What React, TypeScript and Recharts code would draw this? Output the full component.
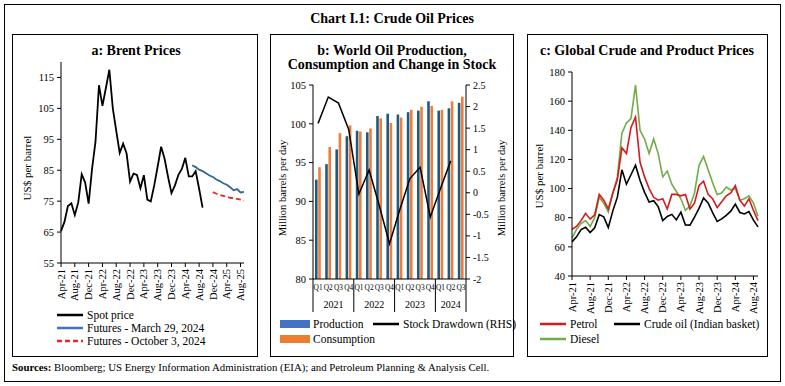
import React from "react";
import { LineChart, Line, XAxis, YAxis, ComposedChart, Bar } from "recharts";

const FONT = "'Liberation Serif', 'DejaVu Serif', serif";

// ---- panel a: Brent (US$/barrel), monthly Apr-21 .. Sep-25
const brentMonths = [
  "Apr-21", "May-21", "Jun-21", "Jul-21", "Aug-21", "Sep-21", "Oct-21", "Nov-21", "Dec-21",
  "Jan-22", "Feb-22", "Mar-22", "Apr-22", "May-22", "Jun-22", "Jul-22", "Aug-22", "Sep-22", "Oct-22", "Nov-22", "Dec-22",
  "Jan-23", "Feb-23", "Mar-23", "Apr-23", "May-23", "Jun-23", "Jul-23", "Aug-23", "Sep-23", "Oct-23", "Nov-23", "Dec-23",
  "Jan-24", "Feb-24", "Mar-24", "Apr-24", "May-24", "Jun-24", "Jul-24", "Aug-24", "Sep-24", "Oct-24", "Nov-24", "Dec-24",
  "Jan-25", "Feb-25", "Mar-25", "Apr-25", "May-25", "Jun-25", "Jul-25", "Aug-25", "Sep-25",
];
const spotPrice = [
  65.3, 68.3, 73.4, 74.3, 70.5, 74.6, 83.7, 81.0, 74.2, 85.5, 94.3, 112.5, 105.8, 111.6, 117.5, 105.1,
  97.7, 90.6, 93.6, 90.4, 81.3, 83.9, 83.5, 79.2, 83.4, 75.5, 74.9, 80.1, 86.2, 92.6, 88.7, 82.9, 77.6,
  80.1, 83.5, 85.4, 89.0, 83.0, 83.0, 84.7, 79.0, 72.9,
];
const futuresMarStart = "Jun-24";
const futuresMar = [86.6, 86.0, 85.2, 84.7, 84.0, 83.3, 82.8, 82.0, 81.5, 80.8, 80.3, 79.5, 78.5, 78.9, 77.8, 78.0];
const futuresOctStart = "Dec-24";
const futuresOct = [77.9, 77.4, 77.0, 76.7, 76.4, 76.1, 75.9, 75.7, 75.5, 75.1];
const brentTicks = [55, 65, 75, 85, 95, 105, 115];

// ---- panel b: world oil, quarterly
const quarterLabels = ["Q1", "Q2", "Q3", "Q4", "Q1", "Q2", "Q3", "Q4", "Q1", "Q2", "Q3", "Q4", "Q1", "Q2", "Q3"];
const quarterYears = ["2021", "2021", "2021", "2021", "2022", "2022", "2022", "2022", "2023", "2023", "2023", "2023", "2024", "2024", "2024"];
const production = [92.8, 94.8, 96.7, 98.4, 99.1, 98.9, 101.0, 101.3, 101.2, 101.5, 101.7, 102.9, 101.7, 102.0, 102.7];
const consumption = [94.4, 97.0, 98.8, 99.8, 99.0, 99.4, 100.7, 100.1, 100.8, 101.8, 102.2, 102.3, 101.8, 102.9, 103.5];
const stockDrawdown = [1.61, 2.22, 2.08, 1.47, -0.03, 0.53, -0.3, -1.18, -0.4, 0.33, 0.59, -0.56, 0.1, 0.74, null];
const leftTicks = [80, 85, 90, 95, 100, 105];
const rightTicks = [-2, -1.5, -1, -0.5, 0, 0.5, 1, 1.5, 2, 2.5];

// ---- panel c: crude and product prices, Apr-21 .. Sep-24
const productMonths = brentMonths.slice(0, 42);
const petrol = [
  72, 74, 78, 83, 79, 82, 96, 92, 86, 97, 106, 128, 124, 142, 149, 118, 108, 100, 94, 92, 93, 86, 96, 96,
  95, 96, 86, 90, 102, 105, 96, 93, 87, 91, 95, 97, 102, 92, 88, 93, 85, 78,
];
const crudeIndian = [
  63.4, 66.9, 71.9, 73.5, 69.8, 73.1, 82.1, 80.6, 73.3, 84.7, 94.1, 112.9, 103.0, 109.5, 116.0, 105.5,
  97.4, 90.7, 91.7, 87.6, 78.1, 80.9, 82.3, 78.5, 83.8, 75.0, 74.9, 80.4, 86.4, 93.5, 90.1, 83.5, 77.4,
  79.2, 81.6, 84.5, 89.4, 83.6, 82.6, 84.2, 78.3, 73.7,
];
const diesel = [
  66, 72, 76, 78, 74, 80, 94, 90, 84, 97, 108, 138, 145, 148, 171, 140, 134, 124, 134, 124, 108, 112, 103, 98,
  93, 85, 88, 97, 116, 122, 113, 104, 96, 97, 101, 99, 100, 92, 93, 95, 90, 81,
];
const productTicks = [40, 60, 80, 100, 120, 140, 160, 180];

const marIdx = brentMonths.indexOf(futuresMarStart);
const octIdx = brentMonths.indexOf(futuresOctStart);
const brentData = brentMonths.map((m, i) => ({
  month: m,
  spot: i < spotPrice.length ? spotPrice[i] : null,
  futMar: i >= marIdx ? futuresMar[i - marIdx] : null,
  futOct: i >= octIdx ? futuresOct[i - octIdx] : null,
}));

const oilData = quarterLabels.map((q, i) => ({
  q: `${q}-${quarterYears[i]}`,
  production: production[i],
  consumption: consumption[i],
  drawdown: stockDrawdown[i],
}));

const productData = productMonths.map((m, i) => ({
  month: m,
  petrol: petrol[i],
  crude: crudeIndian[i],
  diesel: diesel[i],
}));

const tickStyle = { fontSize: 10.5, fill: "#000", fontFamily: FONT };

const MonthTick = (props: any) => {
  const { x, y, payload } = props;
  return (
    <text
      x={x}
      y={y}
      dy={3.6}
      transform={`rotate(-90, ${x}, ${y})`}
      textAnchor="end"
      fontSize={10.5}
      fontFamily={FONT}
      fill="#000"
    >
      {payload.value}
    </text>
  );
};

const QuarterTick = (props: any) => {
  const { x, y, payload } = props;
  const i = props.index ?? payload.index;
  const half = payload.offset || 5.1;
  const year = quarterYears[i];
  const nInYear = quarterYears.filter((yy) => yy === year).length;
  return (
    <g>
      <text x={x} y={y + 11} textAnchor="middle" fontSize={7.4} fontFamily={FONT} fill="#000">
        {quarterLabels[i]}
      </text>
      {quarterLabels[i] === "Q1" && (
        <line x1={x - half} x2={x - half} y1={y} y2={y + 33} stroke="#000" strokeWidth={1} />
      )}
      {i === quarterLabels.length - 1 && (
        <line x1={x + half} x2={x + half} y1={y} y2={y + 33} stroke="#000" strokeWidth={1} />
      )}
      {quarterLabels[i] === "Q2" && (
        <text
          x={nInYear === 4 ? x + half : x}
          y={y + 29}
          textAnchor="middle"
          fontSize={10}
          fontFamily={FONT}
          fill="#000"
        >
          {year}
        </text>
      )}
    </g>
  );
};

type LegendItem = { kind: "line" | "dash" | "rect"; color: string; label: string; x: number; y: number };

const legendItems: LegendItem[] = [
  { kind: "line", color: "#000", label: "Spot price", x: 57, y: 315 },
  { kind: "line", color: "#4472c4", label: "Futures - March 29, 2024", x: 57, y: 328 },
  { kind: "dash", color: "#e8262a", label: "Futures - October 3, 2024", x: 57, y: 341 },
  { kind: "rect", color: "#4472c4", label: "Production", x: 280, y: 324 },
  { kind: "line", color: "#000", label: "Stock Drawdown (RHS)", x: 373, y: 324 },
  { kind: "rect", color: "#ed7d31", label: "Consumption", x: 280, y: 339 },
  { kind: "line", color: "#d7191c", label: "Petrol", x: 540, y: 324 },
  { kind: "line", color: "#000", label: "Crude oil (Indian basket)", x: 614, y: 324 },
  { kind: "line", color: "#70ad47", label: "Diesel", x: 540, y: 339 },
];

function Overlay() {
  return (
    <svg
      width={785}
      height={386}
      style={{ position: "absolute", left: 0, top: 0, pointerEvents: "none" }}
      fontFamily={FONT}
    >
      <rect x={4.5} y={4.5} width={776} height={377} fill="none" stroke="#000" strokeWidth={1} />
      <text x={392} y={23} textAnchor="middle" fontSize={14} fontWeight="bold">
        Chart I.1: Crude Oil Prices
      </text>
      <rect x={12.5} y={34.5} width={245} height={322} fill="none" stroke="#000" strokeWidth={1} />
      <rect x={270.5} y={34.5} width={243} height={322} fill="none" stroke="#000" strokeWidth={1} />
      <rect x={527.5} y={34.5} width={240} height={322} fill="none" stroke="#000" strokeWidth={1} />

      <text x={136} y={55} textAnchor="middle" fontSize={14} fontWeight="bold">a: Brent Prices</text>
      <text x={392} y={55} textAnchor="middle" fontSize={14} fontWeight="bold">b: World Oil Production,</text>
      <text x={392} y={69} textAnchor="middle" fontSize={14} fontWeight="bold">Consumption and Change in Stock</text>
      <text x={647} y={55} textAnchor="middle" fontSize={14} fontWeight="bold">c: Global Crude and Product Prices</text>

      <text transform="translate(31,168) rotate(-90)" textAnchor="middle" fontSize={11}>US$ per barrel</text>
      <text transform="translate(286,188) rotate(-90)" textAnchor="middle" fontSize={10.5}>Million barrels per day</text>
      <text transform="translate(505,188) rotate(-90)" textAnchor="middle" fontSize={10.5}>Million barrels per day</text>
      <text transform="translate(543,176) rotate(-90)" textAnchor="middle" fontSize={11}>US$ per barrel</text>

      {legendItems.map((it) => (
        <g key={it.label}>
          {it.kind === "rect" ? (
            <rect x={it.x} y={it.y - 4} width={30} height={8} fill={it.color} />
          ) : (
            <line
              x1={it.x}
              x2={it.x + 26}
              y1={it.y}
              y2={it.y}
              stroke={it.color}
              strokeWidth={2.5}
              strokeDasharray={it.kind === "dash" ? "5 3" : undefined}
            />
          )}
          <text x={it.x + (it.kind === "rect" ? 33 : 30)} y={it.y + 4} fontSize={11.5}>
            {it.label}
          </text>
        </g>
      ))}

      <text x={12} y={371} fontSize={10.8}>
        <tspan fontWeight="bold">Sources:</tspan>
        <tspan> Bloomberg; US Energy Information Administration (EIA); and Petroleum Planning &amp; Analysis Cell.</tspan>
      </text>
    </svg>
  );
}

export default function App() {
  return (
    <div
      style={{
        position: "absolute",
        left: 0,
        top: 0,
        width: 785,
        height: 386,
        background: "#fff",
        fontFamily: FONT,
        overflow: "hidden",
      }}
    >
      <div style={{ position: "absolute", left: 15, top: 34 }}>
        <LineChart width={242} height={275} data={brentData} margin={{ top: 28, right: 13, left: 0, bottom: 0 }}>
          <XAxis
            dataKey="month"
            interval={3}
            height={46}
            tick={<MonthTick />}
            tickSize={4}
            tickMargin={2}
            stroke="#000"
          />
          <YAxis
            domain={[55, 120]}
            ticks={brentTicks}
            width={46}
            tick={tickStyle}
            tickSize={4}
            tickMargin={3}
            stroke="#000"
          />
          <Line dataKey="spot" stroke="#000" strokeWidth={1.8} dot={false} isAnimationActive={false} connectNulls={false} />
          <Line dataKey="futMar" stroke="#2f6a93" strokeWidth={1.8} dot={false} isAnimationActive={false} />
          <Line
            dataKey="futOct"
            stroke="#e8262a"
            strokeWidth={1.8}
            strokeDasharray="5 3"
            dot={false}
            isAnimationActive={false}
          />
        </LineChart>
      </div>

      <div style={{ position: "absolute", left: 270, top: 34 }}>
        <ComposedChart
          width={243}
          height={281}
          data={oilData}
          margin={{ top: 51, right: 0, left: 0, bottom: 0 }}
          barGap={0.6}
        >
          <XAxis
            dataKey="q"
            xAxisId={0}
            interval={0}
            height={36}
            tick={<QuarterTick />}
            tickLine={false}
            tickSize={0}
            tickMargin={0}
            stroke="#000"
          />
          <YAxis
            yAxisId="left"
            domain={[80, 105]}
            ticks={leftTicks}
            width={43}
            tick={tickStyle}
            tickSize={4}
            tickMargin={3}
            stroke="#000"
          />
          <YAxis
            yAxisId="right"
            orientation="right"
            domain={[-2, 2.5]}
            ticks={rightTicks}
            width={47}
            tick={{ ...tickStyle, fontSize: 10 }}
            tickSize={4}
            tickMargin={3}
            stroke="#000"
          />
          <Bar yAxisId="left" dataKey="production" fill="#1f5a7e" barSize={2.6} isAnimationActive={false} />
          <Bar yAxisId="left" dataKey="consumption" fill="#f07d3a" barSize={2.6} isAnimationActive={false} />
          <Line
            yAxisId="right"
            dataKey="drawdown"
            stroke="#000"
            strokeWidth={1.5}
            dot={false}
            isAnimationActive={false}
          />
        </ComposedChart>
      </div>

      <div style={{ position: "absolute", left: 527, top: 34 }}>
        <LineChart width={240} height={282} data={productData} margin={{ top: 38, right: 9, left: 0, bottom: 0 }}>
          <XAxis
            dataKey="month"
            interval={3}
            height={40}
            tick={<MonthTick />}
            tickSize={4}
            tickMargin={2}
            stroke="#000"
          />
          <YAxis
            domain={[40, 180]}
            ticks={productTicks}
            width={45}
            tick={tickStyle}
            tickSize={4}
            tickMargin={3}
            stroke="#000"
          />
          <Line dataKey="diesel" stroke="#70ad47" strokeWidth={1.6} dot={false} isAnimationActive={false} />
          <Line dataKey="petrol" stroke="#d7191c" strokeWidth={1.6} dot={false} isAnimationActive={false} />
          <Line dataKey="crude" stroke="#000" strokeWidth={1.6} dot={false} isAnimationActive={false} />
        </LineChart>
      </div>

      <Overlay />
    </div>
  );
}
